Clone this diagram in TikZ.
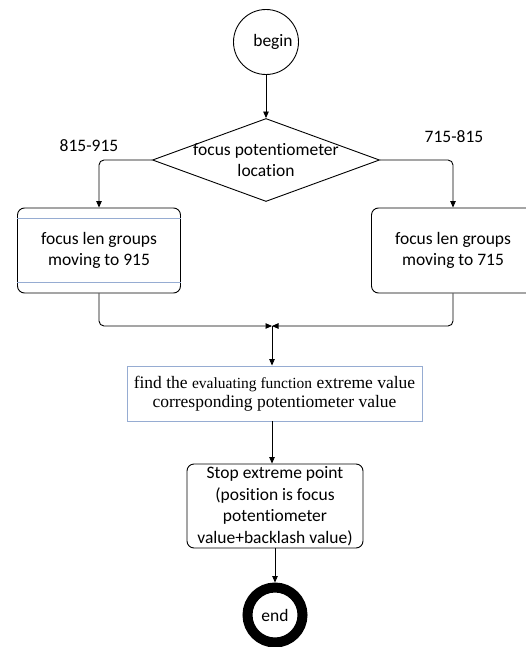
\documentclass[tikz,border=0pt]{standalone}
\usepackage{fontspec}
\setmainfont{Liberation Serif}
\newfontfamily\carl[Ligatures=NoCommon]{Carlito}
\usetikzlibrary{shapes.geometric,arrows.meta}
\definecolor{boxblue}{RGB}{150,172,210}
\tikzset{
  conn/.style={line width=0.9pt, rounded corners=5pt, -{Triangle[length=6.5pt,width=5.5pt]}},
  plainline/.style={line width=0.9pt, rounded corners=5pt},
  cfont/.style={font=\carl\fontsize{17.5}{21.5}\selectfont},
  rbox/.style={draw, line width=0.9pt, rounded corners=7pt, align=center, cfont, inner sep=0pt},
  lbl/.style={cfont, inner sep=0pt}
}
\begin{document}
\begin{tikzpicture}[x=1pt,y=-1pt]
\useasboundingbox (0,0) rectangle (525,647);
% begin
\node[draw, circle, line width=0.9pt, minimum size=65pt, inner sep=0pt, cfont] (begin) at (266,42) {\hspace*{14pt}begin};
% decision
\node[draw, diamond, line width=0.9pt, minimum width=227pt, minimum height=83pt, inner sep=0pt,
      label={[cfont, align=center, inner sep=0pt]center:focus potentiometer\\location}] (dec) at (266,160) {};
% branch boxes
\node[rbox, minimum width=163pt, minimum height=85pt] (lbox) at (99,250.5) {focus len groups\\moving to 915};
\node[rbox, minimum width=163pt, minimum height=85pt] (rbox) at (453,250.5) {focus len groups\\moving to 715};
\draw[boxblue, line width=0.8pt] ([yshift=-11pt]lbox.north west) -- ([yshift=-11pt]lbox.north east);
\draw[boxblue, line width=0.8pt] ([yshift=11pt]lbox.south west) -- ([yshift=11pt]lbox.south east);
% labels
\node[lbl] (l1) at (89,146) {815-915};
\node[lbl] (l2) at (454,137) {715-815};
% find box
\node[draw=boxblue, line width=0.9pt, minimum width=295pt, minimum height=55pt, inner sep=0pt, align=center,
      font=\fontsize{17.5}{18.5}\selectfont] (find) at (274.5,393.5)
  {find the {\fontsize{15.5}{18.5}\selectfont evaluating function} extreme value\\corresponding potentiometer value};
% stop box
\node[rbox, minimum width=176pt, minimum height=84pt] (stop) at (275,506)
  {Stop extreme point\\(position is focus\\potentiometer\\value+backlash value)};
% end
\node[draw, circle, line width=10pt, minimum size=55pt, inner sep=0pt, cfont] (end) at (275,615) {end};
% merge point
\coordinate (m) at (272,326);
% connectors
\draw[conn] (begin) -- (dec);
\draw[conn] (dec.west) -| (lbox.north);
\draw[conn] (dec.east) -| (rbox.north);
\draw[conn] (lbox.south) |- (m);
\draw[conn] (rbox.south) |- (m);
\draw[conn] (m) -- (m |- find.north);
\draw[conn] (find.south -| m) -- (stop.north -| m);
\draw[conn] (stop) -- (end);
\end{tikzpicture}
\end{document}
